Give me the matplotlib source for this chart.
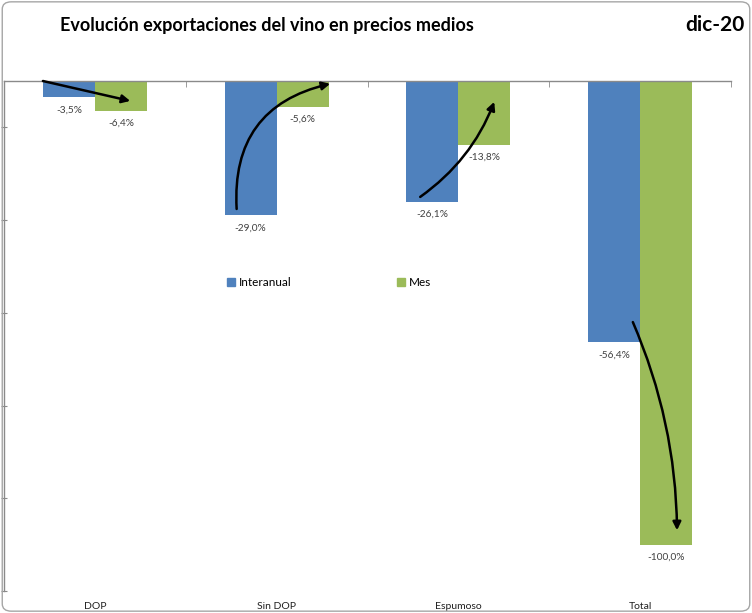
import matplotlib
matplotlib.use('Agg')
import matplotlib.pyplot as plt
from matplotlib.patches import FancyBboxPatch, Patch
import numpy as np

plt.rcParams['font.family'] = ['Lato', 'DejaVu Sans']

categories = ['DOP', 'Sin DOP', 'Espumoso', 'Total']
interanual = [-3.5, -29.0, -26.1, -56.4]
mes = [-6.4, -5.6, -13.8, -100.0]

blue = '#4F81BD'
green = '#9BBB59'
axis_gray = '#8a8a8a'

fig = plt.figure(figsize=(7.52, 6.13), dpi=100)
fig.patch.set_facecolor('white')

# outer chart frame
frame = FancyBboxPatch((0.003, 0.003), 0.994, 0.994, boxstyle='round,pad=0,rounding_size=0.012',
                       transform=fig.transFigure, facecolor='none', edgecolor='#a6a6a6', linewidth=1)
fig.patches.append(frame)

ax = fig.add_axes([4 / 752, 22 / 613, 727 / 752, 510 / 613])
x = np.arange(len(categories))
w = 0.286

b1 = ax.bar(x - w / 2, interanual, w, color=blue, label='Interanual')
b2 = ax.bar(x + w / 2, mes, w, color=green, label='Mes')

for bars, vals in [(b1, interanual), (b2, mes)]:
    for bar, v in zip(bars, vals):
        ax.text(bar.get_x() + bar.get_width() / 2, v - 2.7, f'{v:.1f}%'.replace('.', ','),
                ha='center', va='center', fontsize=7.3, color='#404040')

ax.set_xlim(-0.5, 3.5)
ax.set_ylim(-110, 0)
ax.set_yticks(np.arange(-110, 0, 20))
ax.set_yticklabels([])
ax.tick_params(axis='y', direction='inout', length=4, color=axis_gray)

ax.set_xticks(x)
ax.set_xticklabels(categories, fontsize=7.5, color='#202020')
ax.set_xticks(np.arange(-0.5, 4, 1), minor=True)
ax.tick_params(axis='x', which='major', length=0, pad=8)
ax.tick_params(axis='x', which='minor', top=True, bottom=False, direction='in', length=4, color=axis_gray)

for s in ['right', 'bottom']:
    ax.spines[s].set_visible(False)
for s in ['top', 'left']:
    ax.spines[s].set_color(axis_gray)
    ax.spines[s].set_linewidth(1)
ax.patch.set_alpha(0)

# trend arrows (start x, start y, end x, end y, curvature)
arrows = [
    (0 - w, 0.0, 0 + 0.68 * w, mes[0] + 2.1, 0.0),
    (1 - 0.22, interanual[1] + 1.4, 1 + w * 1.03, -0.6, -0.42),
    (2 - 0.21, interanual[2] + 1.1, 2 + 0.69 * w, mes[2] + 9.3, 0.15),
    (3 - 0.04, interanual[3] + 4.4, 3 + 0.71 * w, mes[3] + 3.1, -0.1),
]
for x0, y0, x1, y1, rad in arrows:
    ax.annotate('', xy=(x1, y1), xytext=(x0, y0),
                arrowprops=dict(arrowstyle='-|>', color='black', lw=1.8, mutation_scale=12,
                                shrinkA=0, shrinkB=0, connectionstyle=f'arc3,rad={rad}'))

handles = [Patch(color=blue, label='Interanual'), Patch(color=green, label='Mes')]
ax.legend(handles=handles, loc='center', bbox_to_anchor=(0.447, 0.604), ncol=2, frameon=False,
          fontsize=8.5, handlelength=0.7, handleheight=0.7, handletextpad=0.3, columnspacing=8.9)

fig.text(60 / 752, 1 - 25 / 613, 'Evolución exportaciones del vino en precios medios',
         fontsize=13, fontweight='bold', ha='left', va='center', color='black')
fig.text(745 / 752, 1 - 25 / 613, 'dic-20', fontsize=15, fontweight='bold', ha='right', va='center',
         color='black')

fig.savefig('out.png', dpi=100, facecolor='white')
